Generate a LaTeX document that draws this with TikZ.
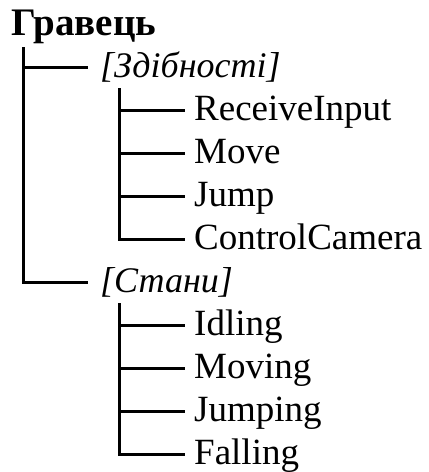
\documentclass[tikz,border=0pt]{standalone}
\usepackage{fontspec}
\setmainfont{Liberation Serif}
\begin{document}
\begin{tikzpicture}[x=1pt,y=-1pt,
  lbl/.style={anchor=west,font=\fontsize{37}{40}\selectfont,inner ysep=0pt,text height=27pt,text depth=7pt},
  lvla/.style={lbl,inner xsep=12pt,font=\fontsize{36}{40}\selectfont\itshape},
  lvlb/.style={lbl,inner xsep=9pt},
  branch/.style={line width=3pt,line join=miter,line cap=butt}]
\useasboundingbox (0,0) rectangle (429,472);
\node[anchor=base west,inner sep=0pt,font=\fontsize{39}{42}\selectfont\bfseries] (root) at (11,35) {Гравець};
\coordinate (r) at (23,47);
\node[lvla] (ab) at (88,67) {[Здібності]};
\coordinate (ra) at (119,88);
\node[lvlb] (a1) at (185,110) {ReceiveInput};
\node[lvlb] (a2) at (185,153) {Move};
\node[lvlb] (a3) at (185,196) {Jump};
\node[lvlb] (a4) at (185,239) {ControlCamera};
\node[lvla] (st) at (88,282) {[Стани]};
\coordinate (rs) at (119,303);
\node[lvlb] (s1) at (185,325) {Idling};
\node[lvlb] (s2) at (185,368) {Moving};
\node[lvlb] (s3) at (185,411) {Jumping};
\node[lvlb] (s4) at (185,454) {Falling};
\draw[branch] (r) |- (ab.west);
\draw[branch] (r) |- (st.west);
\foreach \n in {a1,a2,a3,a4} \draw[branch] (ra) |- (\n.west);
\foreach \n in {s1,s2,s3,s4} \draw[branch] (rs) |- (\n.west);
\end{tikzpicture}
\end{document}
